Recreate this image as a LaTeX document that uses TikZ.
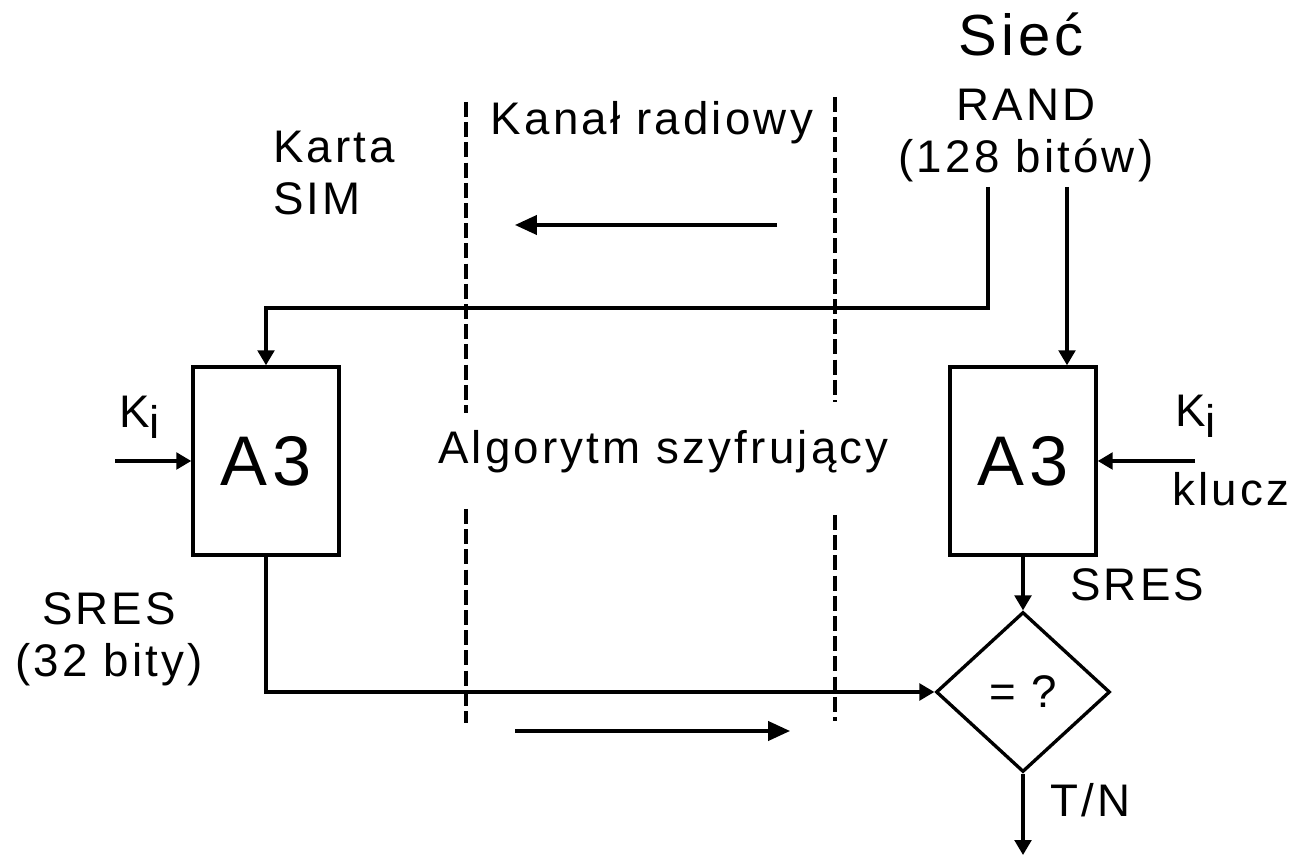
\documentclass[tikz,border=0pt]{standalone}
\usepackage{fontspec}
\setmainfont{Liberation Sans}[LetterSpace=7]
\usetikzlibrary{positioning,arrows.meta,shapes.geometric}
\tikzset{
  node-algo/.style={draw,line width=2pt,minimum width=2.92cm,minimum height=3.76cm,
    inner sep=0pt,font=\fontsize{40}{44}\selectfont},
  node-cmp/.style={draw,diamond,line width=1.9pt,minimum width=3.48cm,minimum height=3.2cm,
    inner sep=0pt,font=\fontsize{26}{30}\selectfont},
  node-label/.style={inner sep=0pt,font=\fontsize{26}{30}\selectfont},
  node-title/.style={inner sep=0pt,font=\fontsize{33}{36}\selectfont},
  arrow/.style={-{Triangle[length=8.5pt,width=9.5pt]},line width=1.8pt},
  arrow-channel/.style={-{Triangle[length=12.5pt,width=11pt]},line width=1.8pt},
  boundary/.style={line width=2.2pt,dash pattern=on 8.5pt off 3pt},
}

\begin{document}
\begin{tikzpicture}[x=0.02cm,y=-0.02cm]
  \useasboundingbox (0,0) rectangle (1296,857);
  % bloki A3 i porownanie
  \node[node-algo] (algoL) at (266,461) {A3};
  \node[node-algo] (algoR) at (1023,461) {A3};
  \node[node-cmp] (cmp) at (1023,692) {= ?};
  % punkty swobodne
  \coordinate (randL) at (988,187);
  \coordinate (randR) at (1067,187);
  \coordinate (kiL) at (115,461);
  \coordinate (kiR) at (1195,461);
  \coordinate (tnEnd) at (1023,855);
  \coordinate (downA) at (777,225);
  \coordinate (downB) at (515,225);
  \coordinate (upA) at (515,731);
  \coordinate (upB) at (790,731);
  % granice kanalu radiowego
  \draw[boundary] (466,102) -- (466,413);
  \draw[boundary] (466,509) -- (466,723);
  \draw[boundary] (835,97) -- (835,402);
  \draw[boundary] (835,515) -- (835,721);
  % opisy
  \node[node-title,anchor=base] (siec) at (1021,56) {Sieć};
  \node[node-label,anchor=base,align=center] (rand) at (1026,173) {RAND\\(128 bitów)};
  \node[node-label,anchor=base west,align=left] (sim) at (273,215) {Karta\\SIM};
  \node[node-label,anchor=base] (kanal) at (652,135) {Kanał radiowy};
  \node[node-label,anchor=base west] (algo) at (438,464) {Algorytm szyfrujący};
  \node[node-label,anchor=base west] (kiLtxt) at (119,428) {K\raisebox{-0.22em}{i}};
  \node[node-label,anchor=base west] (kiRtxt) at (1175,427) {K\raisebox{-0.22em}{i}};
  \node[node-label,anchor=base west] (klucz) at (1172,506) {klucz};
  \node[node-label,anchor=base west] (sresR) at (1070,601) {SRES};
  \node[node-label,anchor=base,align=center] (sresL) at (109,677) {SRES\\(32 bity)};
  \node[node-label,anchor=base west] (tn) at (1050,817) {T/N};
  % polaczenia
  \draw[arrow] (randL) -- ++(0,121) -| (algoL.north);
  \draw[arrow] (randR) -- (randR |- algoR.north);
  \draw[arrow] (kiL) -- (algoL.west);
  \draw[arrow] (kiR) -- (algoR.east);
  \draw[arrow] (algoL.south) |- (cmp.west);
  \draw[arrow] (algoR.south) -- (cmp.north);
  \draw[arrow] (cmp.south) -- (tnEnd);
  \draw[arrow-channel] (downA) -- (downB);
  \draw[arrow-channel] (upA) -- (upB);
\end{tikzpicture}
\end{document}
